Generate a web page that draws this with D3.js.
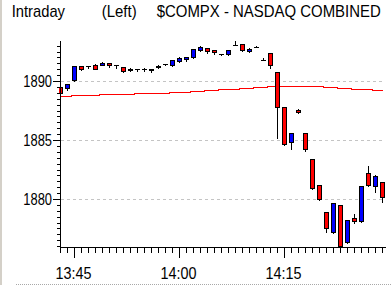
<!DOCTYPE html>
<html>
<head>
<meta charset="utf-8">
<script src="https://cdn.jsdelivr.net/npm/d3@7"></script>
<style>
  body { margin: 0; background: #fff; }
  svg { display: block; font-family: "Liberation Sans", Arial, sans-serif; }
  .grid line { stroke: #c4c4c4; stroke-dasharray: 3,3; shape-rendering: crispEdges; }
  .axis path, .axis line { stroke: #000; shape-rendering: crispEdges; }
  .axis text { fill: #000; font-size: 17px; }
  .wick { stroke: #000; shape-rendering: crispEdges; }
  .body { stroke: #000; shape-rendering: crispEdges; }
  .body-up { fill: #0000ff; }
  .body-down { fill: #ff0000; }
  .avg { fill: none; stroke: #ff0000; shape-rendering: crispEdges; }
</style>
</head>
<body>
<div class="visualization"></div>
<script>
const times = ["13:43", "13:44", "13:45", "13:46", "13:47", "13:48", "13:49", "13:50", "13:51", "13:52",
  "13:53", "13:54", "13:55", "13:56", "13:57", "13:58", "13:59", "14:00", "14:01", "14:02",
  "14:03", "14:04", "14:05", "14:06", "14:07", "14:08", "14:09", "14:10", "14:11", "14:12",
  "14:13", "14:14", "14:15", "14:16", "14:17", "14:18", "14:19", "14:20", "14:21", "14:22",
  "14:23", "14:24", "14:25", "14:26", "14:27", "14:28", "14:29"];
const opens = [1889.49, 1889.38, 1890.08, 1891.27, 1891.27, 1891.36, 1891.39, 1891.53, 1891.36, 1891.19,
  1890.91, 1890.99, 1890.99, 1891.02, 1891.19, 1891.42, 1891.39, 1891.72, 1891.86, 1892.03,
  1892.63, 1892.80, 1892.63, 1892.26, 1892.32, 1893.08, 1893.11, 1892.58, 1892.88, 1891.75,
  1892.37, 1890.76, 1887.80, 1884.86, 1887.55, 1885.57, 1883.36, 1881.16, 1878.87, 1877.23,
  1879.47, 1876.38, 1878.39, 1878.16, 1882.20, 1881.13, 1881.44];
const highs = [1889.49, 1889.75, 1891.30, 1891.30, 1891.27, 1891.47, 1891.61, 1891.53, 1891.36, 1891.19,
  1891.08, 1890.99, 1891.10, 1891.02, 1891.33, 1891.42, 1891.75, 1892.03, 1892.03, 1892.71,
  1892.97, 1892.80, 1892.63, 1892.26, 1892.63, 1893.36, 1893.11, 1892.82, 1892.97, 1891.95,
  1892.37, 1890.76, 1887.80, 1885.57, 1887.63, 1885.57, 1883.36, 1881.16, 1878.87, 1879.64,
  1879.47, 1878.19, 1878.73, 1881.08, 1882.80, 1882.00, 1881.44];
const lows = [1888.90, 1889.26, 1890.00, 1890.95, 1891.10, 1891.00, 1891.33, 1891.21, 1891.13, 1890.79,
  1890.85, 1890.87, 1890.87, 1890.74, 1891.10, 1891.33, 1891.30, 1891.64, 1891.69, 1891.95,
  1892.57, 1892.35, 1892.29, 1892.18, 1892.23, 1893.08, 1892.52, 1892.49, 1892.88, 1891.75,
  1891.13, 1885.19, 1884.58, 1884.24, 1887.27, 1884.09, 1880.82, 1879.89, 1877.23, 1877.14,
  1875.96, 1876.30, 1877.99, 1878.08, 1881.10, 1880.59, 1879.77];
const closes = [1889.01, 1889.75, 1891.30, 1891.04, 1891.27, 1891.02, 1891.56, 1891.39, 1891.36, 1890.87,
  1891.02, 1890.99, 1890.99, 1890.96, 1891.30, 1891.42, 1891.75, 1891.95, 1892.03, 1892.71,
  1892.88, 1892.58, 1892.49, 1892.26, 1892.63, 1893.08, 1892.60, 1892.74, 1892.88, 1891.75,
  1891.38, 1887.82, 1884.66, 1885.57, 1887.35, 1884.21, 1880.91, 1879.97, 1877.52, 1879.64,
  1876.04, 1878.19, 1878.11, 1881.08, 1881.21, 1881.92, 1880.14];
const averages = [1888.73, 1888.73, 1888.81, 1888.81, 1888.81, 1888.81, 1888.90, 1888.90, 1888.90, 1888.90,
  1888.90, 1888.98, 1888.98, 1888.98, 1888.98, 1888.98, 1889.07, 1889.07, 1889.07, 1889.15,
  1889.15, 1889.24, 1889.24, 1889.32, 1889.32, 1889.32, 1889.41, 1889.41, 1889.49, 1889.49,
  1889.58, 1889.58, 1889.58, 1889.58, 1889.58, 1889.58, 1889.58, 1889.58, 1889.49, 1889.49,
  1889.41, 1889.41, 1889.32, 1889.32, 1889.32, 1889.24, 1889.24];
const yMajorTicks = [1880, 1885, 1890];
const titleParts = ["Intraday", "(Left)", "$COMPX - NASDAQ COMBINED"];

class IntradayChart {
  constructor(data, avg) {
    this.width = 392;
    this.height = 285;
    this.plot = { left: 60, right: 385, top: 40, bottom: 247 };
    this.minutePx = 7;
    this.data = data;
    this.avg = avg;
    this.setupSvg();
  }

  setupSvg() {
    const p = this.plot;
    this.svg = d3.select(".visualization")
      .append("svg")
      .attr("width", this.width)
      .attr("height", this.height)
      .attr("viewBox", `0 0 ${this.width} ${this.height}`);

    // window frame bits
    this.svg.append("rect")
      .attr("x", 0).attr("y", 0).attr("width", 2).attr("height", this.height)
      .attr("fill", "#d4d0c8");
    this.svg.append("line")
      .attr("x1", 16).attr("x2", this.width).attr("y1", 284.5).attr("y2", 284.5)
      .attr("stroke", "#a8a8a8").attr("stroke-dasharray", "1,1");

    const t0 = this.data[0].time;
    const t1 = new Date(t0.getTime() + (p.right - p.left) / this.minutePx * 60000);
    this.xScale = d3.scaleTime()
      .domain([t0, t1])
      .rangeRound([p.left, p.right]);

    this.yScale = d3.scaleLinear()
      .domain([1875.932, 1893.475])
      .rangeRound([p.bottom, p.top]);

    // title: squeeze each part horizontally to the width it takes in the original
    const titleX = [11.7, 101.7, 156.7];
    const titleW = [53.3, 35, 224.3];
    this.svg.append("g")
      .selectAll("text")
      .data(titleParts)
      .join("text")
      .style("font-size", "16px")
      .text(d => d)
      .attr("transform", function (d, i) {
        const natural = this.getComputedTextLength();
        return `translate(${titleX[i]}, 17) scale(${titleW[i] / natural}, 1)`;
      });

    // gridlines
    this.svg.append("g")
      .attr("class", "grid")
      .selectAll("line")
      .data(yMajorTicks)
      .join("line")
      .attr("x1", p.left + 1)
      .attr("x2", p.right)
      .attr("y1", d => this.yScale(d) + 0.5)
      .attr("y2", d => this.yScale(d) + 0.5);

    this.svg.append("clipPath")
      .attr("id", "plot-clip")
      .append("rect")
      .attr("x", p.left - 1).attr("y", p.top)
      .attr("width", p.right - p.left + 1).attr("height", p.bottom - p.top + 1);

    const plotG = this.svg.append("g").attr("clip-path", "url(#plot-clip)");

    const avgLine = d3.line()
      .x((d, i) => this.xScale(this.data[i].time) + 0.5)
      .y(d => this.yScale(d) + 0.5)
      .curve(d3.curveStep);

    plotG.append("path")
      .attr("class", "avg")
      .attr("d", avgLine(this.avg));

    plotG.append("g")
      .selectAll(".wick")
      .data(this.data)
      .join("line")
      .attr("class", "wick")
      .attr("x1", d => this.xScale(d.time) + 0.5)
      .attr("x2", d => this.xScale(d.time) + 0.5)
      .attr("y1", d => this.yScale(d.high))
      .attr("y2", d => this.yScale(d.low) + 1);

    const top = d => Math.min(this.yScale(d.open), this.yScale(d.close));
    const bottom = d => Math.max(this.yScale(d.open), this.yScale(d.close));

    plotG.append("g")
      .selectAll(".body")
      .data(this.data.filter(d => bottom(d) > top(d)))
      .join("rect")
      .attr("class", d => d.close > d.open ? "body body-up" : "body body-down")
      .attr("x", d => this.xScale(d.time) - 2 + 0.5)
      .attr("y", d => top(d) + 0.5)
      .attr("width", 4)
      .attr("height", d => bottom(d) - top(d));

    plotG.append("g")
      .selectAll(".doji")
      .data(this.data.filter(d => bottom(d) === top(d)))
      .join("line")
      .attr("class", "wick")
      .attr("x1", d => this.xScale(d.time) - 2)
      .attr("x2", d => this.xScale(d.time) + 3)
      .attr("y1", d => top(d) + 0.5)
      .attr("y2", d => top(d) + 0.5);

    // y axis: minor ticks every half point, labelled ticks every 5
    this.svg.append("g")
      .attr("class", "axis")
      .attr("transform", `translate(${p.left}, 0)`)
      .call(d3.axisLeft(this.yScale)
        .tickValues(d3.range(1876, 1893.5, 0.5))
        .tickSize(3).tickSizeOuter(0).tickFormat(""));

    this.svg.append("g")
      .attr("class", "axis")
      .attr("transform", `translate(${p.left}, 0)`)
      .call(d3.axisLeft(this.yScale)
        .tickValues(yMajorTicks)
        .tickSize(7).tickSizeOuter(0).tickPadding(1)
        .tickFormat(d3.format("d")))
      .selectAll("text")
      .attr("textLength", 28.7)
      .attr("lengthAdjust", "spacingAndGlyphs");

    // x axis: minute ticks, labels every 15 minutes
    this.svg.append("g")
      .attr("class", "axis")
      .attr("transform", `translate(0, ${p.bottom})`)
      .call(d3.axisBottom(this.xScale)
        .ticks(d3.timeMinute.every(1))
        .tickSize(6).tickSizeOuter(0).tickFormat(""));

    this.svg.append("g")
      .attr("class", "axis")
      .attr("transform", `translate(0, ${p.bottom})`)
      .call(d3.axisBottom(this.xScale)
        .ticks(d3.timeMinute.every(15))
        .tickSize(11).tickSizeOuter(0).tickPadding(9)
        .tickFormat(d3.timeFormat("%H:%M")))
      .selectAll("text")
      .attr("dx", -1)
      .attr("textLength", 36)
      .attr("lengthAdjust", "spacingAndGlyphs");
  }
}

const parseTime = d3.timeParse("%H:%M");
const candles = times.map((t, i) => ({
  time: parseTime(t),
  open: opens[i],
  high: highs[i],
  low: lows[i],
  close: closes[i]
}));

new IntradayChart(candles, averages);
</script>
</body>
</html>
